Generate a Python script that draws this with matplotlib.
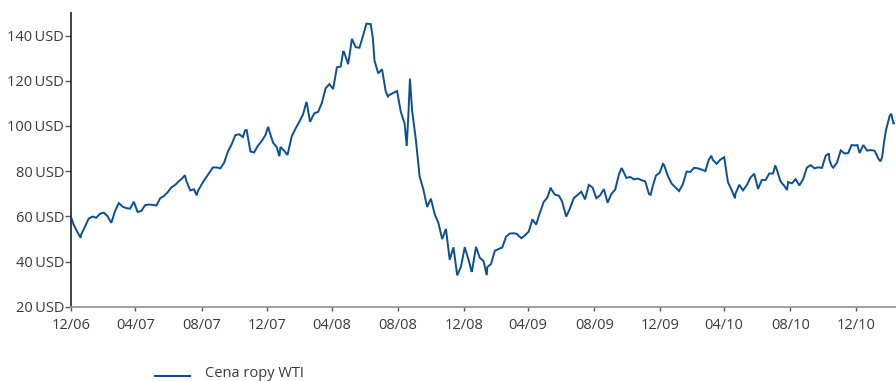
import matplotlib
matplotlib.use("Agg")
import matplotlib.pyplot as plt
import matplotlib.dates as mdates
from matplotlib.lines import Line2D
import pandas as pd

# WTI crude oil price (USD per barrel), weekly closes plus notable daily extremes
dates_2006 = ["2006-12-29"]
price_2006 = [61.05]

dates_2007 = ["2007-01-05", "2007-01-12", "2007-01-18", "2007-01-19", "2007-01-26",
              "2007-02-02", "2007-02-09", "2007-02-16", "2007-02-23", "2007-03-02",
              "2007-03-09", "2007-03-16", "2007-03-23", "2007-03-30", "2007-04-06",
              "2007-04-13", "2007-04-20", "2007-04-27", "2007-05-04", "2007-05-11",
              "2007-05-18", "2007-05-25", "2007-06-01", "2007-06-08", "2007-06-15",
              "2007-06-22", "2007-06-29", "2007-07-06", "2007-07-13", "2007-07-20",
              "2007-07-27", "2007-07-31", "2007-08-03", "2007-08-10", "2007-08-17",
              "2007-08-22", "2007-08-24", "2007-08-31", "2007-09-07", "2007-09-14",
              "2007-09-21", "2007-09-28", "2007-10-05", "2007-10-12", "2007-10-19",
              "2007-10-26", "2007-11-02", "2007-11-09", "2007-11-16", "2007-11-20",
              "2007-11-23", "2007-11-30", "2007-12-07", "2007-12-14", "2007-12-21",
              "2007-12-28"]
price_2007 = [56.31, 52.99, 50.48, 51.99, 55.42,
              59.02, 59.89, 59.39, 61.14, 61.64,
              60.05, 57.11, 62.28, 65.87, 64.28,
              63.63, 63.38, 66.46, 61.93, 62.37,
              64.94, 65.20, 65.08, 64.76, 68.00,
              68.97, 70.68, 72.81, 73.93, 75.57,
              77.02, 78.21, 75.48, 71.47, 71.98,
              69.30, 71.09, 74.04, 76.70, 79.10,
              81.62, 81.66, 81.22, 83.69, 88.60,
              91.86, 95.93, 96.32, 95.10, 98.03,
              98.18, 88.71, 88.28, 91.27, 93.31,
              96.00]

dates_2008 = ["2008-01-02", "2008-01-04", "2008-01-11", "2008-01-18", "2008-01-23",
              "2008-01-25", "2008-02-01", "2008-02-07", "2008-02-15", "2008-02-22",
              "2008-02-29", "2008-03-07", "2008-03-13", "2008-03-14", "2008-03-20",
              "2008-03-28", "2008-04-04", "2008-04-11", "2008-04-18", "2008-04-25",
              "2008-05-02", "2008-05-09", "2008-05-16", "2008-05-21", "2008-05-23",
              "2008-05-30", "2008-06-06", "2008-06-13", "2008-06-20", "2008-06-27",
              "2008-07-03", "2008-07-11", "2008-07-15", "2008-07-18", "2008-07-25",
              "2008-08-01", "2008-08-08", "2008-08-12", "2008-08-15", "2008-08-22",
              "2008-08-29", "2008-09-05", "2008-09-12", "2008-09-16", "2008-09-19",
              "2008-09-22", "2008-09-26", "2008-10-03", "2008-10-10", "2008-10-17",
              "2008-10-24", "2008-10-31", "2008-11-07", "2008-11-14", "2008-11-21",
              "2008-11-28", "2008-12-05", "2008-12-12", "2008-12-19", "2008-12-26"]
price_2008 = [99.62, 97.91, 92.69, 90.57, 86.62,
              90.71, 88.96, 87.14, 95.50, 98.81,
              101.84, 105.15, 110.33, 110.21, 101.84,
              105.62, 106.23, 110.14, 116.69, 118.52,
              116.32, 125.96, 126.29, 133.17, 132.19,
              127.35, 138.54, 134.86, 134.62, 140.21,
              145.29, 145.08, 138.74, 128.88, 123.26,
              125.10, 115.20, 113.01, 113.77, 114.59,
              115.46, 106.23, 101.18, 91.15, 104.55,
              120.92, 106.89, 93.88, 77.70, 71.85,
              64.15, 67.81, 61.04, 57.04, 49.93,
              54.43, 40.81, 46.28, 33.87, 37.71]

dates_2009 = ["2009-01-02", "2009-01-09", "2009-01-15", "2009-01-16", "2009-01-23",
              "2009-01-30", "2009-02-06", "2009-02-12", "2009-02-13", "2009-02-20",
              "2009-02-27", "2009-03-06", "2009-03-13", "2009-03-20", "2009-03-27",
              "2009-04-03", "2009-04-09", "2009-04-17", "2009-04-24", "2009-05-01",
              "2009-05-08", "2009-05-15", "2009-05-22", "2009-05-29", "2009-06-05",
              "2009-06-11", "2009-06-12", "2009-06-19", "2009-06-26", "2009-07-02",
              "2009-07-10", "2009-07-17", "2009-07-24", "2009-07-31", "2009-08-07",
              "2009-08-14", "2009-08-21", "2009-08-28", "2009-09-04", "2009-09-11",
              "2009-09-18", "2009-09-25", "2009-10-02", "2009-10-09", "2009-10-16",
              "2009-10-21", "2009-10-23", "2009-10-30", "2009-11-06", "2009-11-13",
              "2009-11-20", "2009-11-27", "2009-12-04", "2009-12-11", "2009-12-14",
              "2009-12-18", "2009-12-24", "2009-12-31"]
price_2009 = [46.34, 40.83, 35.40, 36.51, 46.47,
              41.68, 40.17, 33.98, 37.51, 38.94,
              44.76, 45.52, 46.25, 51.06, 52.38,
              52.51, 52.24, 50.33, 51.55, 53.20,
              58.63, 56.34, 61.67, 66.31, 68.44,
              72.68, 72.04, 69.55, 69.16, 66.73,
              59.89, 63.56, 68.05, 69.45, 70.93,
              67.51, 73.89, 72.74, 68.02, 69.29,
              72.04, 66.02, 69.95, 71.77, 78.53,
              81.37, 80.50, 77.00, 77.43, 76.35,
              76.72, 76.05, 75.47, 69.87, 69.51,
              73.36, 78.05, 79.36]

dates_2010 = ["2010-01-06", "2010-01-08", "2010-01-15", "2010-01-22", "2010-01-29",
              "2010-02-05", "2010-02-12", "2010-02-19", "2010-02-26", "2010-03-05",
              "2010-03-12", "2010-03-19", "2010-03-26", "2010-04-01", "2010-04-06",
              "2010-04-09", "2010-04-16", "2010-04-23", "2010-04-30", "2010-05-07",
              "2010-05-14", "2010-05-20", "2010-05-21", "2010-05-28", "2010-06-04",
              "2010-06-11", "2010-06-18", "2010-06-25", "2010-07-02", "2010-07-09",
              "2010-07-16", "2010-07-23", "2010-07-30", "2010-08-03", "2010-08-06",
              "2010-08-13", "2010-08-20", "2010-08-25", "2010-08-27", "2010-09-03",
              "2010-09-10", "2010-09-17", "2010-09-24", "2010-10-01", "2010-10-08",
              "2010-10-15", "2010-10-22", "2010-10-29", "2010-11-05", "2010-11-11",
              "2010-11-12", "2010-11-16", "2010-11-19", "2010-11-26", "2010-12-03",
              "2010-12-10", "2010-12-17", "2010-12-23", "2010-12-31"]
price_2010 = [83.18, 82.75, 78.00, 74.54, 72.89,
              71.19, 74.13, 79.81, 79.66, 81.50,
              81.24, 80.68, 80.00, 84.87, 86.84,
              84.92, 83.24, 85.12, 86.15, 75.11,
              71.61, 68.01, 70.04, 73.97, 71.51,
              73.78, 77.18, 78.86, 72.14, 76.09,
              76.01, 78.98, 78.95, 82.55, 80.70,
              75.39, 73.46, 71.63, 75.17, 74.60,
              76.45, 73.66, 76.49, 81.58, 82.66,
              81.25, 81.69, 81.43, 86.85, 87.81,
              84.88, 82.34, 81.51, 83.76, 89.19,
              87.79, 88.02, 91.51, 91.38]

dates_2011 = ["2011-01-03", "2011-01-07", "2011-01-14", "2011-01-21", "2011-01-28",
              "2011-02-04", "2011-02-11", "2011-02-15", "2011-02-18", "2011-02-22",
              "2011-02-25", "2011-03-04", "2011-03-07", "2011-03-11", "2011-03-14"]
price_2011 = [91.55, 88.03, 91.54, 89.11, 89.34,
              89.03, 85.58, 84.32, 86.20, 93.57,
              97.88, 104.42, 105.44, 101.16, 101.19]

tick_months = ["2006-12-31", "2007-04-30", "2007-08-31", "2007-12-31", "2008-04-30",
               "2008-08-31", "2008-12-31", "2009-04-30", "2009-08-31", "2009-12-31",
               "2010-04-30", "2010-08-31", "2010-12-31"]
y_ticks = [20, 40, 60, 80, 100, 120, 140]
series_label = "Cena ropy WTI"

dates = pd.to_datetime(dates_2006 + dates_2007 + dates_2008 + dates_2009
                       + dates_2010 + dates_2011)
prices = price_2006 + price_2007 + price_2008 + price_2009 + price_2010 + price_2011

LINE = "#0b4f96"
TEXT = "#3a3a3a"
plt.rcParams["font.family"] = ["Open Sans", "DejaVu Sans"]

W, H = 896, 381
fig = plt.figure(figsize=(W / 100, H / 100), dpi=100)
ax = fig.add_axes([71 / W, 1 - 306.7 / H, (895 - 71) / W, (306.7 - 13) / H])

ax.plot(dates, prices, color=LINE, lw=1.4, solid_joinstyle="miter")

ax.set_xlim(pd.Timestamp("2006-12-31"), pd.Timestamp("2011-03-14"))
ax.set_ylim(20, 150)

ax.set_yticks(y_ticks)
ax.set_yticklabels([f"{v}\u2009USD" for v in y_ticks], fontsize=10.5, color=TEXT)
ax.set_xticks(pd.to_datetime(tick_months))
ax.xaxis.set_major_formatter(mdates.DateFormatter("%m/%y"))
for lbl in ax.get_xticklabels():
    lbl.set_fontsize(10.5)
    lbl.set_color(TEXT)

for side in ("top", "right"):
    ax.spines[side].set_visible(False)
ax.spines["left"].set_color("#333333")
ax.spines["left"].set_linewidth(1.3)
ax.spines["bottom"].set_color("#999999")
ax.spines["bottom"].set_linewidth(1.3)
ax.tick_params(axis="y", direction="out", length=4, width=1, color="#555555", pad=1)
ax.tick_params(axis="x", direction="out", length=3, width=1, color="#555555", pad=5)

# legend drawn below the plot
fig.add_artist(Line2D([155 / W, 190 / W], [1 - 375.5 / H, 1 - 375.5 / H],
                      color=LINE, lw=1.5, transform=fig.transFigure))
fig.text(205 / W, 1 - 377 / H, series_label, fontsize=10.5, color=TEXT,
         ha="left", va="baseline")

fig.savefig("out.png", dpi=100)
